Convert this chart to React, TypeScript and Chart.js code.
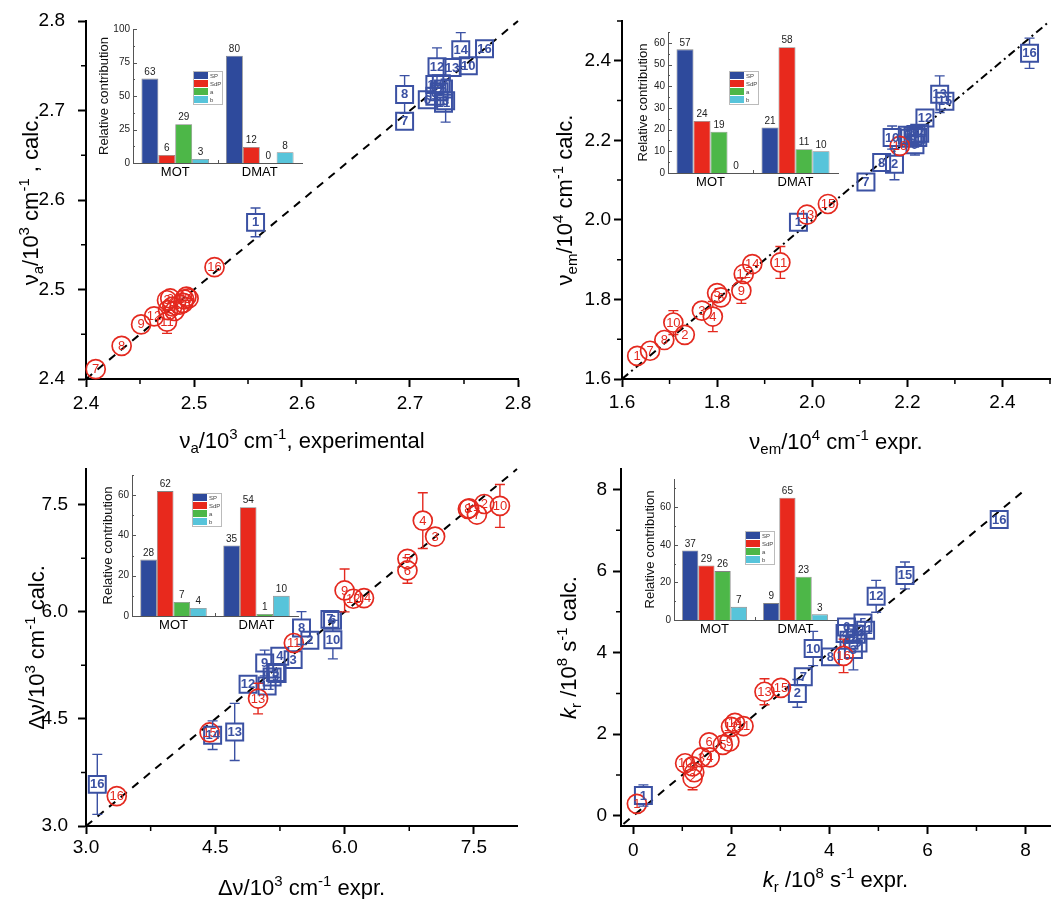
import React, { useEffect, useRef } from 'react';
import { Chart, registerables } from 'chart.js';

Chart.register(...registerables);

const FONT = '"Liberation Sans", Arial, Helvetica, sans-serif';
const RED = '#e4291f';
const BLUE = '#3b51a3';

const groups = ['MOT', 'DMAT'];
const components = ['SP', 'SdP', 'a', 'b'];
const componentColors = ['#2e4a9c', '#e8291d', '#4db748', '#57c4da'];

// ---------- Panel A : nu_a ----------
const vaMotLabels = ['7', '8', '9', '12', '11', '3', '10', '1', '5', '2', '13', '6', '15', '14', '4', '16'];
const vaMotExp = [2.409, 2.433, 2.451, 2.463, 2.475, 2.475, 2.476, 2.482, 2.480, 2.478, 2.487, 2.490, 2.491, 2.493, 2.495, 2.519];
const vaMotCalc = [2.411, 2.437, 2.461, 2.470, 2.464, 2.488, 2.477, 2.476, 2.481, 2.490, 2.483, 2.485, 2.489, 2.492, 2.490, 2.525];
const vaMotErr = [0.009, 0, 0, 0, 0.013, 0, 0, 0, 0, 0, 0, 0, 0, 0, 0, 0];
const vaDmatLabels = ['1', '7', '8', '6', '9', '15', '2', '4', '5', '11', '3', '12', '13', '10', '14', '16'];
const vaDmatExp = [2.557, 2.695, 2.695, 2.716, 2.723, 2.723, 2.727, 2.729, 2.731, 2.731, 2.733, 2.725, 2.739, 2.754, 2.747, 2.769];
const vaDmatCalc = [2.575, 2.688, 2.718, 2.712, 2.716, 2.729, 2.721, 2.730, 2.724, 2.708, 2.711, 2.749, 2.748, 2.750, 2.768, 2.769];
const vaDmatErr = [0.016, 0, 0.021, 0, 0, 0, 0, 0, 0, 0, 0.024, 0.021, 0, 0.005, 0.019, 0];
const vaDiag = [2.4, 2.8];
const vaSP = [63, 80];
const vaSdP = [6, 12];
const vaA = [29, 0];
const vaB = [3, 8];

// ---------- Panel B : nu_em ----------
const emMotLabels = ['1', '7', '8', '10', '2', '3', '4', '5', '6', '9', '12', '14', '11', '13', '15', '16'];
const emMotExp = [1.632, 1.659, 1.689, 1.708, 1.732, 1.768, 1.791, 1.800, 1.808, 1.851, 1.856, 1.874, 1.933, 1.989, 2.033, 2.184];
const emMotCalc = [1.658, 1.671, 1.698, 1.742, 1.711, 1.772, 1.757, 1.816, 1.805, 1.822, 1.864, 1.889, 1.893, 2.013, 2.040, 2.186];
const emMotErr = [0, 0, 0, 0.030, 0, 0.010, 0.038, 0.012, 0, 0.032, 0, 0, 0.040, 0, 0, 0];
const emDmatLabels = ['1', '7', '8', '2', '10', '6', '4', '3', '5', '11', '14', '9', '12', '13', '15', '16'];
const emDmatExp = [1.971, 2.113, 2.146, 2.173, 2.168, 2.200, 2.205, 2.212, 2.218, 2.222, 2.226, 2.216, 2.237, 2.268, 2.279, 2.457];
const emDmatCalc = [1.994, 2.095, 2.144, 2.140, 2.207, 2.213, 2.205, 2.210, 2.215, 2.207, 2.218, 2.189, 2.256, 2.316, 2.298, 2.419];
const emDmatErr = [0, 0, 0, 0.039, 0.029, 0, 0, 0, 0, 0, 0, 0.026, 0, 0.046, 0, 0.038];
const emDiag = [1.6, 2.5];
const emSP = [57, 21];
const emSdP = [24, 58];
const emA = [19, 11];
const emB = [0, 10];

// ---------- Panel C : Stokes shift ----------
const dvMotLabels = ['16', '15', '13', '11', '9', '12', '14', '5', '6', '4', '3', '8', '1', '7', '2', '10'];
const dvMotExp = [3.357, 4.434, 4.996, 5.411, 6.000, 6.101, 6.225, 6.729, 6.729, 6.907, 7.050, 7.430, 7.445, 7.535, 7.620, 7.802];
const dvMotCalc = [3.419, 4.310, 4.785, 5.563, 6.299, 6.183, 6.192, 6.742, 6.579, 7.277, 7.054, 7.440, 7.450, 7.362, 7.510, 7.483];
const dvMotErr = [0, 0, 0.215, 0.10, 0.30, 0, 0, 0, 0.18, 0.39, 0, 0, 0, 0, 0, 0.30];
const dvDmatLabels = ['16', '14', '13', '12', '11', '15', '5', '1', '9', '4', '3', '8', '2', '7', '6', '10'];
const dvDmatExp = [3.131, 4.469, 4.725, 4.880, 5.101, 5.159, 5.200, 5.217, 5.073, 5.248, 5.403, 5.500, 5.597, 5.830, 5.860, 5.864];
const dvDmatCalc = [3.583, 4.272, 4.318, 4.985, 4.962, 5.087, 5.150, 5.135, 5.283, 5.377, 5.330, 5.772, 5.600, 5.894, 5.880, 5.610];
const dvDmatErr = [0.42, 0.20, 0.40, 0, 0, 0, 0, 0, 0.18, 0, 0, 0.23, 0, 0, 0, 0.27];
const dvDiag = [3.0, 8.0];
const dvSP = [28, 35];
const dvSdP = [62, 54];
const dvA = [7, 1];
const dvB = [4, 10];

// ---------- Panel D : k_r ----------
const krMotLabels = ['1', '10', '8', '2', '7', '3', '4', '6', '5', '9', '12', '14', '11', '13', '15', '16'];
const krMotExp = [0.074, 1.058, 1.210, 1.210, 1.245, 1.390, 1.560, 1.546, 1.827, 1.960, 1.994, 2.074, 2.249, 2.677, 3.012, 4.290];
const krMotCalc = [0.293, 1.288, 1.210, 0.920, 1.068, 1.430, 1.430, 1.800, 1.736, 1.817, 2.180, 2.280, 2.200, 3.040, 3.137, 3.920];
const krMotErr = [0, 0, 0, 0.28, 0, 0, 0.10, 0, 0.08, 0, 0, 0, 0, 0.32, 0.10, 0.41];
const krDmatLabels = ['1', '2', '7', '10', '8', '6', '4', '13', '3', '14', '9', '5', '11', '12', '15', '16'];
const krDmatExp = [0.207, 3.347, 3.468, 3.669, 4.022, 4.350, 4.320, 4.400, 4.490, 4.550, 4.584, 4.685, 4.739, 4.954, 5.542, 7.464];
const krDmatCalc = [0.497, 3.000, 3.406, 4.100, 3.895, 4.628, 4.467, 4.300, 4.076, 4.450, 4.237, 4.726, 4.548, 5.379, 5.892, 7.262];
const krDmatErr = [0.26, 0.34, 0, 0.42, 0, 0.20, 0, 0, 0.50, 0, 0, 0, 0, 0.39, 0.33, 0];
const krDiag = [-0.2, 8.0];
const krSP = [37, 9];
const krSdP = [29, 65];
const krA = [26, 23];
const krB = [7, 3];

// ---------- axis titles (rich text segments) ----------
type Seg = { t: string; k?: 'sub' | 'sup'; i?: boolean };
const vaXTitle: Seg[] = [{ t: 'ν' }, { t: 'a', k: 'sub' }, { t: '/10' }, { t: '3', k: 'sup' }, { t: ' cm' }, { t: '-1', k: 'sup' }, { t: ', experimental' }];
const vaYTitle: Seg[] = [{ t: 'ν' }, { t: 'a', k: 'sub' }, { t: '/10' }, { t: '3', k: 'sup' }, { t: ' cm' }, { t: '-1', k: 'sup' }, { t: ' , calc.' }];
const emXTitle: Seg[] = [{ t: 'ν' }, { t: 'em', k: 'sub' }, { t: '/10' }, { t: '4', k: 'sup' }, { t: ' cm' }, { t: '-1', k: 'sup' }, { t: ' expr.' }];
const emYTitle: Seg[] = [{ t: 'ν' }, { t: 'em', k: 'sub' }, { t: '/10' }, { t: '4', k: 'sup' }, { t: ' cm' }, { t: '-1', k: 'sup' }, { t: ' calc.' }];
const dvXTitle: Seg[] = [{ t: 'Δν/10' }, { t: '3', k: 'sup' }, { t: ' cm' }, { t: '-1', k: 'sup' }, { t: ' expr.' }];
const dvYTitle: Seg[] = [{ t: 'Δν/10' }, { t: '3', k: 'sup' }, { t: ' cm' }, { t: '-1', k: 'sup' }, { t: ' calc.' }];
const krXTitle: Seg[] = [{ t: 'k', i: true }, { t: 'r', k: 'sub' }, { t: ' /10' }, { t: '8', k: 'sup' }, { t: ' s' }, { t: '-1', k: 'sup' }, { t: ' expr.' }];
const krYTitle: Seg[] = [{ t: 'k', i: true }, { t: 'r', k: 'sub' }, { t: ' /10' }, { t: '8', k: 'sup' }, { t: ' s' }, { t: '-1', k: 'sup' }, { t: ' calc.' }];

// ---------- helpers ----------
const isMult = (v: number, base: number, step: number) => {
  const q = (v - base) / step;
  return Math.abs(q - Math.round(q)) < 1e-6;
};

const pts = (xs: number[], ys: number[], errs: number[], labels: string[]) =>
  xs.map((x, i) => ({ x, y: ys[i], err: errs[i], label: labels[i] }));

function drawRich(ctx: CanvasRenderingContext2D, segs: Seg[], cx: number, cy: number, size: number, rotate: boolean) {
  const fontFor = (s: Seg) => `${s.i ? 'italic ' : ''}${s.k ? Math.round(size * 0.68) : size}px ${FONT}`;
  const widths = segs.map((s) => {
    ctx.font = fontFor(s);
    return ctx.measureText(s.t).width;
  });
  const total = widths.reduce((a, b) => a + b, 0);
  ctx.save();
  ctx.translate(cx, cy);
  if (rotate) ctx.rotate(-Math.PI / 2);
  ctx.textBaseline = 'alphabetic';
  ctx.textAlign = 'left';
  ctx.fillStyle = '#000';
  let x = -total / 2;
  const base = size * 0.358;
  segs.forEach((s, i) => {
    ctx.font = fontFor(s);
    const dy = s.k === 'sup' ? -size * 0.4 : s.k === 'sub' ? size * 0.24 : 0;
    ctx.fillText(s.t, x, base + dy);
    x += widths[i];
  });
  ctx.restore();
}

const axisTitlesPlugin = {
  id: 'axisTitles',
  afterDraw(chart: any, _a: any, opts: any) {
    if (!opts || !opts.x) return;
    const { ctx, chartArea } = chart;
    drawRich(ctx, opts.x, (chartArea.left + chartArea.right) / 2, opts.xY, 22, false);
    drawRich(ctx, opts.y, opts.yX, (chartArea.top + chartArea.bottom) / 2, 22, true);
  },
};

const errorBarsPlugin = {
  id: 'errorBars',
  afterDatasetsDraw(chart: any) {
    const ctx = chart.ctx;
    const ys = chart.scales.y;
    chart.data.datasets.forEach((ds: any, di: number) => {
      if (!ds.markerHalf) return;
      const meta = chart.getDatasetMeta(di);
      ctx.save();
      ctx.strokeStyle = ds.borderColor;
      ctx.lineWidth = 1.4;
      meta.data.forEach((el: any, i: number) => {
        const p = ds.data[i];
        if (!p.err) return;
        const top = ys.getPixelForValue(p.y + p.err);
        const bot = ys.getPixelForValue(p.y - p.err);
        const h = ds.markerHalf;
        const cap = 5;
        ctx.beginPath();
        if (top < el.y - h) {
          ctx.moveTo(el.x, el.y - h);
          ctx.lineTo(el.x, top);
          ctx.moveTo(el.x - cap, top);
          ctx.lineTo(el.x + cap, top);
        }
        if (bot > el.y + h) {
          ctx.moveTo(el.x, el.y + h);
          ctx.lineTo(el.x, bot);
          ctx.moveTo(el.x - cap, bot);
          ctx.lineTo(el.x + cap, bot);
        }
        ctx.stroke();
      });
      ctx.restore();
    });
  },
};

const pointLabelsPlugin = {
  id: 'pointLabels',
  afterDatasetsDraw(chart: any) {
    const ctx = chart.ctx;
    chart.data.datasets.forEach((ds: any, di: number) => {
      if (!ds.labelFont) return;
      const meta = chart.getDatasetMeta(di);
      ctx.save();
      ctx.font = ds.labelFont;
      ctx.fillStyle = ds.borderColor;
      ctx.textAlign = 'center';
      ctx.textBaseline = 'middle';
      meta.data.forEach((el: any, i: number) => {
        ctx.fillText(ds.data[i].label, el.x, el.y + 0.5);
      });
      ctx.restore();
    });
  },
};

const minorTicksPlugin = {
  id: 'minorTicks',
  afterDraw(chart: any, _a: any, opts: any) {
    if (!opts || !opts.xMajor) return;
    const { ctx, chartArea } = chart;
    const xs = chart.scales.x;
    const ys = chart.scales.y;
    ctx.save();
    ctx.strokeStyle = '#000';
    ctx.lineWidth = 1.5;
    ctx.beginPath();
    xs.ticks.forEach((t: any) => {
      if (!isMult(t.value, opts.xBase, opts.xMajor)) {
        const p = xs.getPixelForValue(t.value);
        ctx.moveTo(p, chartArea.bottom);
        ctx.lineTo(p, chartArea.bottom + 5);
      }
    });
    ys.ticks.forEach((t: any) => {
      if (!isMult(t.value, opts.yBase, opts.yMajor)) {
        const p = ys.getPixelForValue(t.value);
        ctx.moveTo(chartArea.left, p);
        ctx.lineTo(chartArea.left - 5, p);
      }
    });
    ctx.stroke();
    ctx.restore();
  },
};

const barValuesPlugin = {
  id: 'barValues',
  afterDatasetsDraw(chart: any) {
    const ctx = chart.ctx;
    ctx.save();
    ctx.font = `10px ${FONT}`;
    ctx.fillStyle = '#222';
    ctx.textAlign = 'center';
    ctx.textBaseline = 'bottom';
    chart.data.datasets.forEach((ds: any, di: number) => {
      chart.getDatasetMeta(di).data.forEach((el: any, i: number) => {
        ctx.fillText(String(ds.data[i]), el.x, el.y - 1.5);
      });
    });
    ctx.restore();
  },
};

const insetLegendPlugin = {
  id: 'insetLegend',
  afterDraw(chart: any, _a: any, opts: any) {
    const ctx = chart.ctx;
    const x = opts.x;
    const y = opts.y;
    const rowH = 8;
    const w = 29;
    ctx.save();
    ctx.fillStyle = '#fff';
    ctx.fillRect(x, y, w, rowH * 4 + 1);
    chart.data.datasets.forEach((ds: any, i: number) => {
      ctx.fillStyle = ds.backgroundColor;
      ctx.fillRect(x + 1, y + 1 + i * rowH, 14, rowH - 1);
      ctx.fillStyle = '#444';
      ctx.font = `6px ${FONT}`;
      ctx.textBaseline = 'middle';
      ctx.textAlign = 'left';
      ctx.fillText(ds.label, x + 17, y + 1 + i * rowH + rowH / 2);
    });
    ctx.strokeStyle = '#bbb';
    ctx.lineWidth = 1;
    ctx.strokeRect(x + 0.5, y + 0.5, w, rowH * 4 + 1);
    ctx.restore();
  },
};

const insetTicksPlugin = {
  id: 'insetTicks',
  afterDraw(chart: any) {
    const ys = chart.scales.y;
    const xs = chart.scales.x;
    const { ctx, chartArea } = chart;
    const step = ys.ticks.length > 1 ? ys.ticks[1].value - ys.ticks[0].value : 10;
    ctx.save();
    ctx.strokeStyle = '#555';
    ctx.lineWidth = 1;
    ctx.beginPath();
    for (let v = ys.min; v <= ys.max + 1e-9; v += step / 2) {
      const p = Math.round(ys.getPixelForValue(v)) + 0.5;
      const len = isMult(v, 0, step) ? 4 : 2;
      ctx.moveTo(chartArea.left, p);
      ctx.lineTo(chartArea.left + len, p);
    }
    const xm = Math.round(xs.getPixelForValue(0.5)) + 0.5;
    ctx.moveTo(xm, chartArea.bottom);
    ctx.lineTo(xm, chartArea.bottom - 3);
    ctx.stroke();
    ctx.restore();
  },
};

type Box = { left: number; top: number; w: number; h: number };
type Area = { l: number; t: number; r: number; b: number };

function zeroPad(s: any) {
  s.paddingLeft = 0;
  s.paddingRight = 0;
  s.paddingTop = 0;
  s.paddingBottom = 0;
}

function axis(o: any) {
  return {
    type: 'linear',
    min: o.min,
    max: o.max,
    ticks: {
      stepSize: o.step,
      autoSkip: false,
      includeBounds: false,
      maxRotation: 0,
      padding: o.tickPad,
      color: '#000',
      font: { size: 19, family: FONT },
      callback: (v: any) => (isMult(Number(v), o.base, o.major) ? Number(v).toFixed(o.dec) : ''),
    },
    grid: {
      display: true,
      drawOnChartArea: false,
      drawTicks: true,
      tickLength: 8,
      tickWidth: 2,
      tickColor: (c: any) => (c.tick && isMult(c.tick.value, o.base, o.major) ? '#000' : 'rgba(0,0,0,0)'),
    },
    border: { display: true, color: '#000', width: 2 },
    title: { display: false, text: o.titleText },
    afterFit: (s: any) => {
      if (o.horizontal) s.height = o.size;
      else s.width = o.size;
      zeroPad(s);
    },
  };
}

type PanelCfg = {
  canvas: Box;
  area: Area;
  xTitleY: number;
  yTitleX: number;
  xTickPad: number;
  yTickPad: number;
  x: { min: number; max: number; step: number; major: number; base: number; dec: number };
  y: { min: number; max: number; step: number; major: number; base: number; dec: number };
  xTitle: Seg[];
  yTitle: Seg[];
  mot: any[];
  dmat: any[];
  diag: number[];
  dash: number[];
  insetCanvas: Box;
  insetArea: Area;
  insetMax: number;
  insetStep: number;
  insetTitleX: number;
  legend: { x: number; y: number };
  bars: number[][];
};

const segText = (s: Seg[]) => s.map((x) => x.t).join('');

function mainConfig(p: PanelCfg): any {
  const c = p.canvas;
  const a = p.area;
  return {
    type: 'scatter',
    data: {
      datasets: [
        {
          label: 'MOT',
          data: p.mot,
          pointStyle: 'circle',
          pointRadius: 9.5,
          borderWidth: 1.7,
          pointBorderWidth: 1.7,
          borderColor: RED,
          backgroundColor: 'rgba(255,255,255,0)',
          markerHalf: 9.5,
          labelFont: `13px ${FONT}`,
          clip: false,
        },
        {
          label: 'DMAT',
          data: p.dmat,
          pointStyle: 'rect',
          pointRadius: 12,
          borderWidth: 2,
          pointBorderWidth: 2,
          borderColor: BLUE,
          backgroundColor: 'rgba(255,255,255,0)',
          markerHalf: 8.5,
          labelFont: `bold 13px ${FONT}`,
          clip: false,
        },
        {
          label: 'y = x',
          data: p.diag.map((v) => ({ x: v, y: v })),
          showLine: true,
          pointRadius: 0,
          borderColor: '#000',
          borderWidth: 2,
          borderDash: p.dash,
          clip: false,
        },
      ],
    },
    options: {
      responsive: false,
      animation: false,
      events: [],
      layout: { padding: { left: 0, top: a.t - c.top, right: c.left + c.w - a.r, bottom: 0 } },
      plugins: {
        legend: { display: false },
        tooltip: { enabled: false },
        minorTicks: { xMajor: p.x.major, xBase: p.x.base, yMajor: p.y.major, yBase: p.y.base },
        axisTitles: { x: p.xTitle, y: p.yTitle, xY: p.xTitleY - c.top, yX: p.yTitleX - c.left },
      },
      scales: {
        x: axis({
          ...p.x,
          titleText: segText(p.xTitle),
          horizontal: true,
          tickPad: p.xTickPad,
          size: c.top + c.h - a.b,
        }),
        y: axis({
          ...p.y,
          titleText: segText(p.yTitle),
          horizontal: false,
          tickPad: p.yTickPad,
          size: a.l - c.left,
        }),
      },
    },
    plugins: [errorBarsPlugin, pointLabelsPlugin, minorTicksPlugin, axisTitlesPlugin],
  };
}

function insetConfig(p: PanelCfg): any {
  const c = p.insetCanvas;
  const a = p.insetArea;
  return {
    type: 'bar',
    data: {
      labels: groups,
      datasets: components.map((name, i) => ({
        label: name,
        data: p.bars[i],
        backgroundColor: componentColors[i],
        borderColor: 'rgba(30,30,30,0.55)',
        borderWidth: 0.8,
        categoryPercentage: 0.8,
        barPercentage: 1,
      })),
    },
    options: {
      responsive: false,
      animation: false,
      events: [],
      layout: { padding: { left: 0, top: a.t - c.top, right: c.left + c.w - a.r, bottom: 0 } },
      plugins: {
        legend: { display: false },
        tooltip: { enabled: false },
        insetLegend: { x: p.legend.x - c.left, y: p.legend.y - c.top },
      },
      scales: {
        x: {
          type: 'category',
          offset: true,
          grid: { display: false, drawTicks: false },
          border: { display: true, color: '#555', width: 1 },
          ticks: { color: '#000', padding: 3, font: { size: 13, family: FONT, lineHeight: 1 } },
          afterFit: (s: any) => {
            s.height = c.top + c.h - a.b;
            zeroPad(s);
          },
        },
        y: {
          min: 0,
          max: p.insetMax,
          ticks: { stepSize: p.insetStep, includeBounds: false, color: '#222', padding: 3, font: { size: 10, family: FONT } },
          grid: { display: false, drawTicks: false },
          border: { display: true, color: '#555', width: 1 },
          title: {
            display: true,
            text: 'Relative contribution',
            color: '#111',
            font: { size: 13, family: FONT, lineHeight: 1 },
            padding: { top: p.insetTitleX - c.left - 6.5, bottom: 0 },
          },
          afterFit: (s: any) => {
            s.width = a.l - c.left;
            zeroPad(s);
          },
        },
      },
    },
    plugins: [barValuesPlugin, insetLegendPlugin, insetTicksPlugin],
  };
}

const panels: PanelCfg[] = [
  {
    canvas: { left: 0, top: 0, w: 532, h: 460 },
    area: { l: 86, t: 21, r: 518, b: 379 },
    xTitleY: 440,
    yTitleX: 30,
    xTickPad: 5,
    yTickPad: 13,
    x: { min: 2.4, max: 2.8, step: 0.05, major: 0.1, base: 2.4, dec: 1 },
    y: { min: 2.4, max: 2.8, step: 0.05, major: 0.1, base: 2.4, dec: 1 },
    xTitle: vaXTitle,
    yTitle: vaYTitle,
    mot: pts(vaMotExp, vaMotCalc, vaMotErr, vaMotLabels),
    dmat: pts(vaDmatExp, vaDmatCalc, vaDmatErr, vaDmatLabels),
    diag: vaDiag,
    dash: [8, 7],
    insetCanvas: { left: 90, top: 18, w: 220, h: 175 },
    insetArea: { l: 133, t: 29, r: 302, b: 163 },
    insetMax: 100,
    insetStep: 25,
    insetTitleX: 104,
    legend: { x: 193, y: 71 },
    bars: [vaSP, vaSdP, vaA, vaB],
  },
  {
    canvas: { left: 532, top: 0, w: 532, h: 460 },
    area: { l: 622, t: 21, r: 1057, b: 379 },
    xTitleY: 441,
    yTitleX: 564,
    xTickPad: 4,
    yTickPad: 3,
    x: { min: 1.6, max: 2.5, step: 0.1, major: 0.2, base: 1.6, dec: 1 },
    y: { min: 1.6, max: 2.5, step: 0.1, major: 0.2, base: 1.6, dec: 1 },
    xTitle: emXTitle,
    yTitle: emYTitle,
    mot: pts(emMotExp, emMotCalc, emMotErr, emMotLabels),
    dmat: pts(emDmatExp, emDmatCalc, emDmatErr, emDmatLabels),
    diag: emDiag,
    dash: [8, 4, 2, 4],
    insetCanvas: { left: 625, top: 20, w: 222, h: 175 },
    insetArea: { l: 668, t: 32, r: 838, b: 173 },
    insetMax: 65,
    insetStep: 10,
    insetTitleX: 643,
    legend: { x: 729, y: 71 },
    bars: [emSP, emSdP, emA, emB],
  },
  {
    canvas: { left: 0, top: 450, w: 532, h: 449 },
    area: { l: 86, t: 469, r: 517, b: 826 },
    xTitleY: 887,
    yTitleX: 36,
    xTickPad: 2,
    yTickPad: 10,
    x: { min: 3, max: 8, step: 0.75, major: 1.5, base: 3, dec: 1 },
    y: { min: 3, max: 8, step: 0.75, major: 1.5, base: 3, dec: 1 },
    xTitle: dvXTitle,
    yTitle: dvYTitle,
    mot: pts(dvMotExp, dvMotCalc, dvMotErr, dvMotLabels),
    dmat: pts(dvDmatExp, dvDmatCalc, dvDmatErr, dvDmatLabels),
    diag: dvDiag,
    dash: [8, 7],
    insetCanvas: { left: 90, top: 462, w: 215, h: 175 },
    insetArea: { l: 132, t: 475, r: 298, b: 616 },
    insetMax: 70,
    insetStep: 20,
    insetTitleX: 108,
    legend: { x: 192, y: 493 },
    bars: [dvSP, dvSdP, dvA, dvB],
  },
  {
    canvas: { left: 532, top: 450, w: 532, h: 449 },
    area: { l: 621, t: 469, r: 1057, b: 826 },
    xTitleY: 879,
    yTitleX: 568,
    xTickPad: 5,
    yTickPad: 6,
    x: { min: -0.25, max: 8.5, step: 1, major: 2, base: 0, dec: 0 },
    y: { min: -0.25, max: 8.5, step: 1, major: 2, base: 0, dec: 0 },
    xTitle: krXTitle,
    yTitle: krYTitle,
    mot: pts(krMotExp, krMotCalc, krMotErr, krMotLabels),
    dmat: pts(krDmatExp, krDmatCalc, krDmatErr, krDmatLabels),
    diag: krDiag,
    dash: [8, 7],
    insetCanvas: { left: 632, top: 467, w: 212, h: 175 },
    insetArea: { l: 674, t: 479, r: 836, b: 620 },
    insetMax: 75,
    insetStep: 20,
    insetTitleX: 650,
    legend: { x: 745, y: 531 },
    bars: [krSP, krSdP, krA, krB],
  },
];

function ChartCanvas({ box, make }: { box: Box; make: () => any }) {
  const ref = useRef<HTMLCanvasElement>(null);
  useEffect(() => {
    const chart = new Chart(ref.current as HTMLCanvasElement, make());
    return () => chart.destroy();
  }, []);
  return (
    <canvas
      ref={ref}
      width={box.w}
      height={box.h}
      style={{ position: 'absolute', left: box.left, top: box.top, width: box.w, height: box.h }}
    />
  );
}

export default function App() {
  return (
    <div
      style={{
        position: 'fixed',
        left: 0,
        top: 0,
        width: 1064,
        height: 899,
        overflow: 'hidden',
        background: '#fff',
        fontFamily: FONT,
      }}
    >
      {panels.map((p, i) => (
        <ChartCanvas key={'m' + i} box={p.canvas} make={() => mainConfig(p)} />
      ))}
      {panels.map((p, i) => (
        <ChartCanvas key={'i' + i} box={p.insetCanvas} make={() => insetConfig(p)} />
      ))}
    </div>
  );
}
